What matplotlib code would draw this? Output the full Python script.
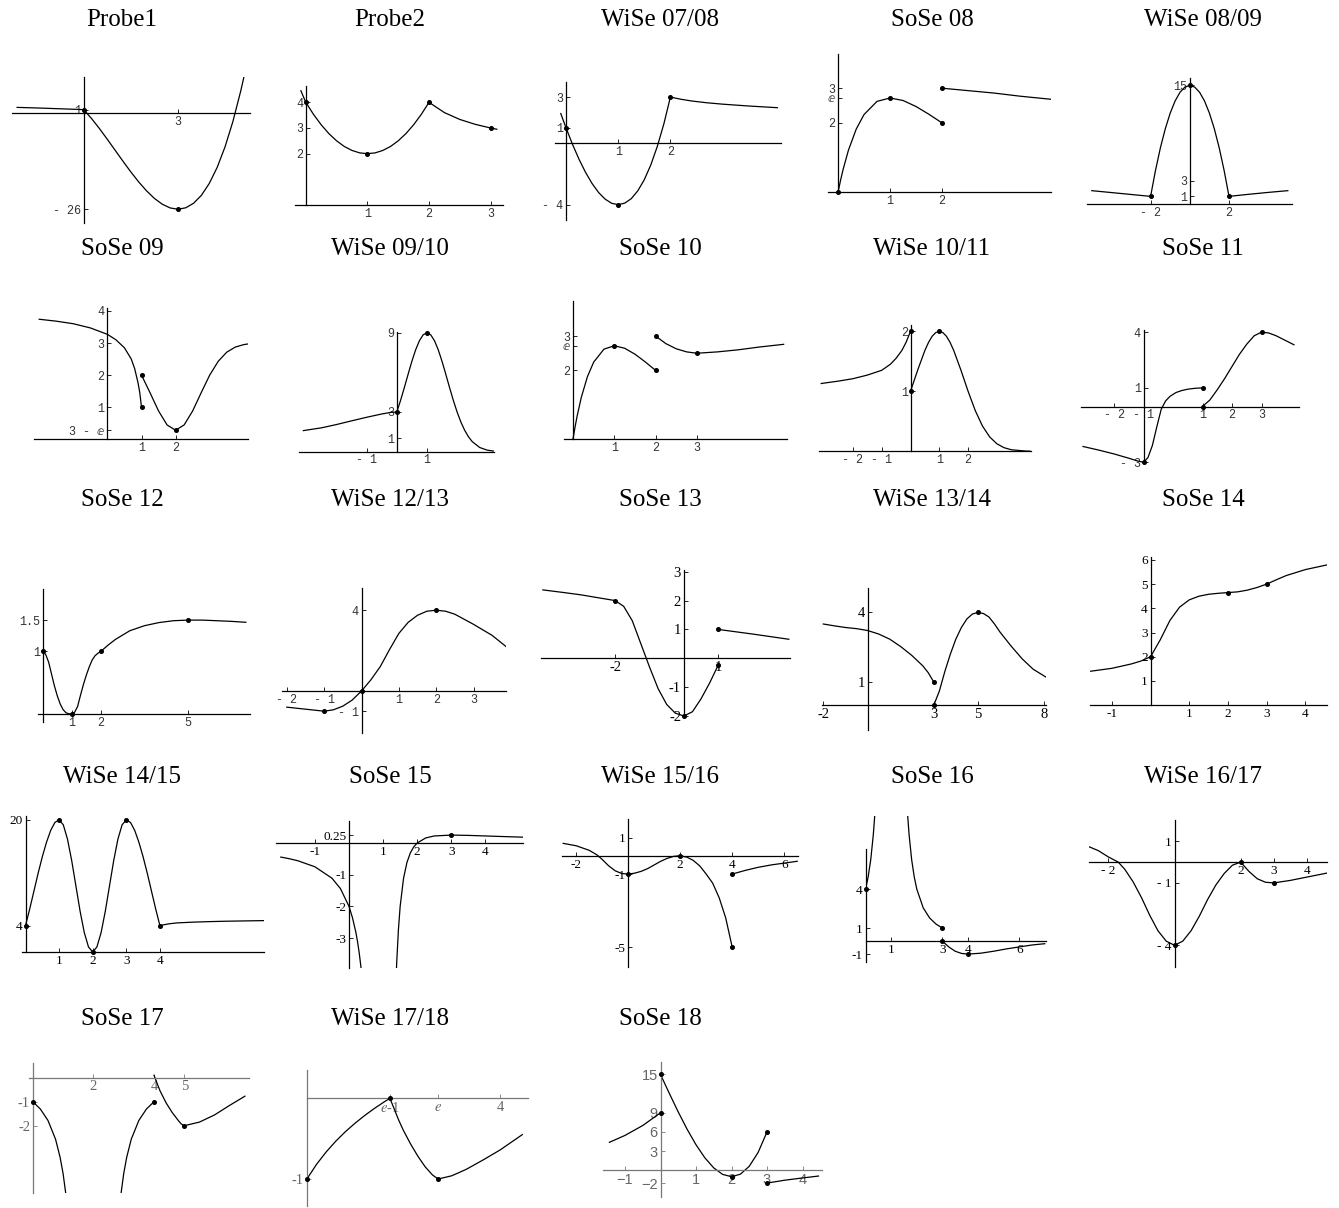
import matplotlib
matplotlib.use("Agg")
import matplotlib.pyplot as plt

plt.rcParams['mathtext.fontset'] = 'stix'

W, H = 1339, 1208
E = 2.718

# ---------------- data ----------------
titles = ["Probe1", "Probe2", "WiSe 07/08", "SoSe 08", "WiSe 08/09",
          "SoSe 09", "WiSe 09/10", "SoSe 10", "WiSe 10/11", "SoSe 11",
          "SoSe 12", "WiSe 12/13", "SoSe 13", "WiSe 13/14", "SoSe 14",
          "WiSe 14/15", "SoSe 15", "WiSe 15/16", "SoSe 16", "WiSe 16/17",
          "SoSe 17", "WiSe 17/18", "SoSe 18"]

# Probe1
probe1_lines = [
    ([-2.12, -1.5, -1, -0.5, 0], [1.6, 1.45, 1.3, 1.15, 1.0]),
    ([0, 0.25, 0.5, 0.75, 1, 1.25, 1.5, 1.75, 2, 2.25, 2.5, 2.75, 3, 3.25, 3.5,
      3.75, 4, 4.25, 4.5, 4.75, 5, 5.12],
     [1, -1.42, -4.125, -7.02, -10, -12.98, -15.875, -18.58, -21, -23.05, -24.625,
      -25.64, -26, -25.61, -24.375, -22.21, -19, -14.67, -9.125, -2.27, 6, 10.5]),
]
probe1_dots = ([0, 3], [1, -26])
probe1_xt = ([3], ["3"])
probe1_yt = ([1, -26], ["1", "- 26"])

# Probe2
probe2_lines = [
    ([-0.08, 0, 0.125, 0.25, 0.375, 0.5, 0.625, 0.75, 0.875, 1, 1.125, 1.25, 1.375,
      1.5, 1.625, 1.75, 1.875, 2],
     [4.45, 4, 3.53, 3.125, 2.78, 2.5, 2.28, 2.125, 2.03, 2, 2.03, 2.125, 2.28,
      2.5, 2.78, 3.125, 3.53, 4]),
    ([2, 2.25, 2.5, 2.75, 3, 3.1], [4, 3.6, 3.333, 3.143, 3, 2.952]),
]
probe2_dots = ([0, 1, 2, 3], [4, 2, 4, 3])
probe2_xt = ([1, 2, 3], ["1", "2", "3"])
probe2_yt = ([2, 3, 4], ["2", "3", "4"])

# WiSe 07/08
w0708_lines = [
    ([-0.1, 0, 0.125, 0.25, 0.375, 0.5, 0.625, 0.75, 0.875, 1, 1.125, 1.25, 1.375,
      1.5, 1.625, 1.75, 1.875, 2],
     [1.93, 1, -0.076, -1.05, -1.90, -2.625, -3.21, -3.64, -3.91, -4, -3.90, -3.61,
      -3.10, -2.375, -1.41, -0.20, 1.26, 3]),
    ([2, 2.2, 2.4, 2.7, 3, 3.5, 4.05], [3, 2.86, 2.75, 2.63, 2.54, 2.42, 2.31]),
]
w0708_dots = ([0, 1, 2], [1, -4, 3])
w0708_xt = ([1, 2], ["1", "2"])
w0708_yt = ([3, 1, -4], ["3", "1", "- 4"])

# SoSe 08
s08_lines = [
    ([0, 0.05, 0.1, 0.2, 0.35, 0.5, 0.75, 1, 1.25, 1.5, 1.75, 2],
     [0, 0.351, 0.669, 1.21, 1.82, 2.24, 2.62, 2.718, 2.646, 2.473, 2.247, 2]),
    ([2, 2.5, 3, 3.5, 4.1], [3, 2.93, 2.86, 2.77, 2.68]),
]
s08_dots = ([0, 1, 2, 2], [0, E, 2, 3])
s08_xt = ([1, 2], ["1", "2"])
s08_yt = ([3, E, 2], ["3", "\u2147", "2"])

# WiSe 08/09
w0809_lines = [
    ([-5, -4, -3, -2], [1.72, 1.48, 1.24, 1.0]),
    ([-2, -1.75, -1.5, -1.25, -1, -0.75, -0.5, -0.25, 0, 0.25, 0.5, 0.75, 1, 1.25,
      1.5, 1.75, 2],
     [1, 4.28, 7.125, 9.53, 11.5, 13.03, 14.125, 14.78, 15, 14.78, 14.125, 13.03,
      11.5, 9.53, 7.125, 4.28, 1]),
    ([2, 3, 4, 5], [1, 1.26, 1.5, 1.72]),
]
w0809_dots = ([-2, 0, 2], [1, 15, 1])
w0809_xt = ([-2, 2], ["- 2", "2"])
w0809_yt = ([15, 3, 1], ["15", "3", "1"])

# SoSe 09
s09_lines = [
    ([-2, -1.5, -1, -0.5, 0, 0.25, 0.5, 0.7, 0.8, 0.9, 0.95, 1],
     [3.74, 3.68, 3.6, 3.47, 3.27, 3.1, 2.85, 2.5, 2.2, 1.75, 1.45, 1.0]),
    ([1, 1.25, 1.5, 1.75, 2, 2.25, 2.5, 2.75, 3, 3.25, 3.5, 3.75, 4, 4.12],
     [2.0, 1.451, 0.883, 0.447, 0.282, 0.447, 0.883, 1.451, 2.0, 2.43, 2.714, 2.873,
      2.95, 2.97]),
]
s09_dots = ([1, 1, 2], [1, 2, 0.282])
s09_xt = ([1, 2], ["1", "2"])
s09_yt = ([4, 3, 2, 1, 0.282], ["4", "3", "2", "1", "3 - \u2147"])

# WiSe 09/10
w0910_lines = [
    ([-3.1, -2.5, -2, -1.5, -1, -0.5, -0.2, 0],
     [1.59, 1.8, 2.05, 2.33, 2.6, 2.85, 2.97, 3.0]),
    ([0, 0.125, 0.25, 0.375, 0.5, 0.625, 0.75, 0.875, 1, 1.125, 1.25, 1.375, 1.5,
      1.625, 1.75, 1.875, 2, 2.125, 2.25, 2.375, 2.5, 2.75, 3, 3.2],
     [3, 3.88, 4.85, 5.86, 6.84, 7.71, 8.40, 8.85, 9, 8.85, 8.40, 7.71, 6.84, 5.86,
      4.85, 3.88, 3, 2.24, 1.62, 1.13, 0.76, 0.31, 0.11, 0.044]),
]
w0910_dots = ([0, 1], [3, 9])
w0910_xt = ([-1, 1], ["- 1", "1"])
w0910_yt = ([9, 3, 1], ["9", "3", "1"])

# SoSe 10
s10_lines = [
    ([0, 0.05, 0.1, 0.2, 0.35, 0.5, 0.75, 1, 1.25, 1.5, 1.75, 2],
     [0, 0.351, 0.669, 1.21, 1.82, 2.24, 2.62, 2.718, 2.646, 2.473, 2.247, 2]),
    ([2, 2.25, 2.5, 2.75, 3, 3.5, 4, 4.5, 5.1],
     [3, 2.78, 2.63, 2.54, 2.5, 2.54, 2.6, 2.68, 2.76]),
]
s10_dots = ([1, 2, 2, 3], [E, 2, 3, 2.5])
s10_xt = ([1, 2, 3], ["1", "2", "3"])
s10_yt = ([3, E, 2], ["3", "\u2147", "2"])

# WiSe 10/11
w1011_lines = [
    ([-3.1, -2.5, -2, -1.5, -1, -0.7, -0.5, -0.3, -0.15, 0],
     [1.13, 1.17, 1.21, 1.27, 1.35, 1.45, 1.55, 1.68, 1.82, 2.0]),
    ([0, 0.25, 0.5, 0.625, 0.75, 0.875, 1, 1.125, 1.25, 1.375, 1.5, 1.75, 2, 2.25,
      2.5, 2.75, 3, 3.25, 3.5, 4, 4.15],
     [1, 1.354, 1.682, 1.814, 1.916, 1.978, 2, 1.978, 1.916, 1.814, 1.682, 1.354, 1,
      0.677, 0.42, 0.239, 0.125, 0.06, 0.026, 0.004, 0.002]),
]
w1011_dots = ([0, 0, 1], [1, 2, 2])
w1011_xt = ([-2, -1, 1, 2], ["- 2", "- 1", "1", "2"])
w1011_yt = ([2, 1], ["2", "1"])

# SoSe 11
s11_lines = [
    ([-3.05, -2.5, -2, -1.5, -1.2, -1, -0.85, -0.7, -0.55, -0.4, -0.25, -0.1, 0.1,
      0.3, 0.5, 0.75, 1],
     [-2.15, -2.35, -2.55, -2.78, -2.93, -3, -2.75, -2.1, -1.1, -0.15, 0.3, 0.55,
      0.75, 0.86, 0.93, 0.98, 1.0]),
    ([1, 1.25, 1.5, 1.75, 2, 2.25, 2.5, 2.75, 3, 3.25, 3.5, 3.75, 4, 4.1],
     [0, 0.35, 0.9, 1.5, 2.15, 2.8, 3.35, 3.8, 4, 3.95, 3.8, 3.6, 3.4, 3.32]),
]
s11_dots = ([-1, 1, 1, 3], [-3, 1, 0, 4])
s11_xt = ([-2, -1, 1, 2, 3], ["- 2", "- 1", "1", "2", "3"])
s11_yt = ([4, 1, -3], ["4", "1", "- 3"])

# SoSe 12
s12_lines = [
    ([0, 0.1, 0.2, 0.3, 0.4, 0.5, 0.6, 0.7, 0.8, 0.9, 1, 1.1, 1.2, 1.3, 1.4, 1.5,
      1.6, 1.7, 1.8, 1.9, 2, 2.25, 2.5, 3, 3.5, 4, 4.5, 5, 5.5, 6, 6.5, 7],
     [1, 0.95, 0.83, 0.64, 0.45, 0.29, 0.16, 0.07, 0.02, 0.003, 0, 0.03, 0.12, 0.3,
      0.47, 0.62, 0.75, 0.86, 0.93, 0.97, 1, 1.1, 1.19, 1.33, 1.41, 1.46, 1.49, 1.5,
      1.5, 1.49, 1.48, 1.465]),
]
s12_dots = ([0, 1, 2, 5], [1, 0, 1, 1.5])
s12_xt = ([1, 2, 5], ["1", "2", "5"])
s12_yt = ([1.5, 1], ["1.5", "1"])

# WiSe 12/13
w1213_lines = [
    ([-2, -1.5, -1, -0.75, -0.5, -0.25, 0, 0.25, 0.5, 0.75, 1, 1.25, 1.5, 1.75, 2,
      2.25, 2.5, 3, 3.5, 3.87],
     [-0.8, -0.9, -1, -0.93, -0.75, -0.45, 0, 0.55, 1.2, 2.05, 2.85, 3.4, 3.75, 3.95,
      4, 3.95, 3.8, 3.3, 2.75, 2.2]),
]
w1213_dots = ([-1, 0, 2], [-1, 0, 4])
w1213_xt = ([-2, -1, 1, 2, 3], ["- 2", "- 1", "1", "2", "3"])
w1213_yt = ([4, -1], ["4", "- 1"])

# SoSe 13
s13_lines = [
    ([-4.1, -3.5, -3, -2.5, -2, -1.75, -1.5, -1.25, -1, -0.75, -0.5, -0.25, 0, 0.25,
      0.5, 0.75, 1],
     [2.37, 2.28, 2.2, 2.1, 2, 1.8, 1.3, 0.5, -0.3, -1.05, -1.6, -1.9, -2, -1.85,
      -1.4, -0.85, -0.23]),
    ([1, 2, 3.05], [1, 0.84, 0.66]),
]
s13_dots = ([-2, 0, 1, 1], [2, -2, -0.23, 1])
s13_xt = ([-2, 1], ["-2", "1"])
s13_yt = ([3, 2, 1, -1, -2], ["3", "2", "1", "-1", "-2"])

# WiSe 13/14
w1314_lines = [
    ([-2, -1.5, -1, -0.5, 0, 0.5, 1, 1.5, 2, 2.5, 2.75, 3],
     [3.5, 3.42, 3.35, 3.3, 3.22, 3.07, 2.85, 2.53, 2.15, 1.7, 1.4, 1.0]),
    ([3, 3.25, 3.5, 3.75, 4, 4.25, 4.5, 4.75, 5, 5.25, 5.5, 5.75, 6, 6.5, 7, 7.5, 8.1],
     [0, 0.6, 1.45, 2.2, 2.85, 3.35, 3.72, 3.93, 4, 3.95, 3.8, 3.5, 3.15, 2.55, 2.0,
      1.55, 1.2]),
]
w1314_dots = ([3, 3, 5], [1, 0, 4])
w1314_xt = ([-2, 3, 5, 8], ["-2", "3", "5", "8"])
w1314_yt = ([4, 1], ["4", "1"])

# SoSe 14
s14_lines = [
    ([-1.55, -1, -0.5, -0.25, 0, 0.25, 0.5, 0.75, 1, 1.25, 1.5, 1.75, 2, 2.25, 2.5,
      2.75, 3, 3.25, 3.5, 4, 4.55],
     [1.4, 1.52, 1.7, 1.82, 2, 2.7, 3.5, 4.05, 4.35, 4.5, 4.58, 4.62, 4.65, 4.68,
      4.75, 4.86, 5, 5.18, 5.35, 5.6, 5.79]),
]
s14_dots = ([0, 2, 3], [2, 4.65, 5])
s14_xt = ([-1, 1, 2, 3, 4], ["-1", "1", "2", "3", "4"])
s14_yt = ([1, 2, 3, 4, 5, 6], ["1", "2", "3", "4", "5", "6"])

# WiSe 14/15
w1415_lines = [
    ([0, 0.125, 0.25, 0.375, 0.5, 0.625, 0.75, 0.875, 1, 1.125, 1.25, 1.375, 1.5,
      1.625, 1.75, 1.875, 2, 2.125, 2.25, 2.375, 2.5, 2.625, 2.75, 2.875, 3, 3.125,
      3.25, 3.375, 3.5, 3.625, 3.75, 3.875, 4, 4.25, 4.5, 5, 5.5, 6, 6.5, 7.1],
     [4, 6.5, 9.2, 11.9, 14.4, 16.6, 18.4, 19.6, 20, 19.24, 17.07, 13.83, 10, 6.17,
      2.93, 0.76, 0, 0.76, 2.93, 6.17, 10, 13.83, 17.07, 19.24, 20, 19.6, 18.4, 16.6,
      14.4, 11.9, 9.2, 6.5, 4, 4.25, 4.4, 4.52, 4.6, 4.66, 4.7, 4.75]),
]
w1415_dots = ([0, 1, 2, 3, 4], [4, 20, 0, 20, 4])
w1415_xt = ([1, 2, 3, 4], ["1", "2", "3", "4"])
w1415_yt = ([20, 4], ["20", "4"])

# SoSe 15
s15_lines = [
    ([-2.0, -1.75, -1.5, -1, -0.5, -0.25, 0, 0.1, 0.2, 0.25, 0.3, 0.35, 0.37],
     [-0.444, -0.496, -0.56, -0.75, -1.11, -1.44, -2, -2.35, -2.81, -3.11, -3.47,
      -3.91, -4.11]),
    ([1.38, 1.4, 1.45, 1.5, 1.6, 1.7, 1.8, 1.9, 2, 2.25, 2.5, 3, 3.5, 4, 4.5, 5.1],
     [-4.29, -3.75, -2.72, -2, -1.11, -0.61, -0.31, -0.12, 0, 0.16, 0.222, 0.25, 0.24,
      0.222, 0.204, 0.184]),
]
s15_dots = ([3], [0.25])
s15_xt = ([-1, 1, 2, 3, 4], ["-1", "1", "2", "3", "4"])
s15_yt = ([0.25, -1, -2, -3], ["0.25", "-1", "-2", "-3"])

# WiSe 15/16
w1516_lines = [
    ([-2.5, -2, -1.5, -1.2, -1, -0.75, -0.5, -0.25, 0, 0.25, 0.5, 0.75, 1, 1.25, 1.5,
      1.75, 2, 2.25, 2.5, 2.75, 3, 3.25, 3.5, 3.75, 4],
     [0.68, 0.55, 0.3, 0.05, -0.2, -0.55, -0.82, -0.97, -1, -0.95, -0.85, -0.7, -0.5,
      -0.3, -0.14, -0.03, 0, -0.07, -0.25, -0.55, -1.0, -1.5, -2.3, -3.4, -5]),
    ([4, 4.5, 5, 5.5, 6, 6.5], [-1, -0.8, -0.63, -0.5, -0.4, -0.3]),
]
w1516_dots = ([0, 2, 4, 4], [-1, 0, -5, -1])
w1516_xt = ([-2, 2, 4, 6], ["-2", "2", "4", "6"])
w1516_yt = ([1, -1, -5], ["1", "-1", "-5"])

# SoSe 16
s16_lines = [
    ([0, 0.1, 0.2, 0.3, 0.35, 0.37], [4, 4.94, 6.25, 8.16, 9.47, 10.08]),
    ([1.63, 1.65, 1.7, 1.8, 1.9, 2, 2.25, 2.5, 2.75, 3],
     [10.08, 9.47, 8.16, 6.25, 4.94, 4, 2.56, 1.78, 1.31, 1]),
    ([3, 3.25, 3.5, 3.75, 4, 4.5, 5, 5.5, 6, 6.5, 7],
     [0, -0.45, -0.78, -0.95, -1, -0.93, -0.78, -0.6, -0.45, -0.3, -0.2]),
]
s16_dots = ([0, 3, 3, 4], [4, 1, 0, -1])
s16_xt = ([1, 3, 4, 6], ["1", "3", "4", "6"])
s16_yt = ([4, 1, -1], ["4", "1", "-1"])

# WiSe 16/17
w1617_lines = [
    ([-2.6, -2.3, -2, -1.7, -1.5, -1.25, -1, -0.75, -0.5, -0.25, 0, 0.25, 0.5, 0.75,
      1, 1.25, 1.5, 1.75, 2],
     [0.75, 0.55, 0.25, 0, -0.35, -0.95, -1.7, -2.55, -3.3, -3.8, -4, -3.8, -3.3,
      -2.6, -1.8, -1.1, -0.55, -0.15, 0]),
    ([2, 2.25, 2.5, 2.75, 3, 3.5, 4, 4.6], [0, -0.45, -0.8, -0.97, -1, -0.88, -0.72, -0.53]),
]
w1617_dots = ([0, 2, 3], [-4, 0, -1])
w1617_xt = ([-2, 2, 3, 4], ["- 2", "2", "3", "4"])
w1617_yt = ([1, -1, -4], ["1", "- 1", "- 4"])

# SoSe 17
s17_lines = [
    ([0, 0.25, 0.5, 0.75, 0.9, 1.0, 1.1], [-1, -1.306, -1.78, -2.56, -3.31, -4, -4.94]),
    ([2.9, 3, 3.1, 3.25, 3.5, 3.75, 4], [-4.94, -4, -3.31, -2.56, -1.78, -1.306, -1]),
    ([4, 4.2, 4.4, 4.6, 4.8, 4.9, 5, 5.5, 6, 6.5, 7],
     [0.1, -0.55, -1.05, -1.45, -1.78, -1.93, -2, -1.85, -1.55, -1.15, -0.77]),
]
s17_dots = ([0, 4, 5], [-1, -1, -2])
s17_xt = ([2, 4, 5], ["2", "4", "5"])
s17_yt = ([-1, -2], ["-1", "-2"])

# WiSe 17/18
w1718_lines = [
    ([0, 0.2, 0.4, 0.6, 0.8, 1.0, 1.2, 1.4, 1.6, 1.718],
     [-1, -0.818, -0.664, -0.53, -0.412, -0.307, -0.2115, -0.1245, -0.0445, 0]),
    ([1.718, 1.8, 1.9, 2.0, 2.15, 2.3, 2.45, 2.6, 2.718, 3, 3.3, 3.66, 4, 4.46],
     [0, -0.12, -0.27, -0.4, -0.57, -0.72, -0.85, -0.95, -1, -0.96, -0.88, -0.76,
      -0.64, -0.45]),
]
w1718_dots = ([0, 1.718, 2.718], [-1, 0, -1])
w1718_xt = ([1.718, 2.718, 4], ["$e$-1", "$e$", "4"])
w1718_yt = ([-1], ["-1"])

# SoSe 18
s18_lines = [
    ([-1.44, -1, -0.5, 0], [4.38, 5.46, 7.01, 9]),
    ([0, 0.25, 0.5, 0.75, 1, 1.25, 1.5, 1.75, 2, 2.25, 2.5, 2.75, 3],
     [15, 12.02, 9.125, 6.42, 4, 1.95, 0.375, -0.64, -1, -0.61, 0.625, 2.80, 6]),
    ([3, 3.5, 4, 4.45], [-2, -1.55, -1.2, -0.9]),
]
s18_dots = ([0, 0, 2, 3, 3], [9, 15, -1, 6, -2])
s18_xt = ([-1, 1, 2, 3, 4], ["\u22121", "1", "2", "3", "4"])
s18_yt = ([15, 9, 6, 3, -2], ["15", "9", "6", "3", "\u22122"])

panel_data = [
    (probe1_lines, probe1_dots, probe1_xt, probe1_yt),
    (probe2_lines, probe2_dots, probe2_xt, probe2_yt),
    (w0708_lines, w0708_dots, w0708_xt, w0708_yt),
    (s08_lines, s08_dots, s08_xt, s08_yt),
    (w0809_lines, w0809_dots, w0809_xt, w0809_yt),
    (s09_lines, s09_dots, s09_xt, s09_yt),
    (w0910_lines, w0910_dots, w0910_xt, w0910_yt),
    (s10_lines, s10_dots, s10_xt, s10_yt),
    (w1011_lines, w1011_dots, w1011_xt, w1011_yt),
    (s11_lines, s11_dots, s11_xt, s11_yt),
    (s12_lines, s12_dots, s12_xt, s12_yt),
    (w1213_lines, w1213_dots, w1213_xt, w1213_yt),
    (s13_lines, s13_dots, s13_xt, s13_yt),
    (w1314_lines, w1314_dots, w1314_xt, w1314_yt),
    (s14_lines, s14_dots, s14_xt, s14_yt),
    (w1415_lines, w1415_dots, w1415_xt, w1415_yt),
    (s15_lines, s15_dots, s15_xt, s15_yt),
    (w1516_lines, w1516_dots, w1516_xt, w1516_yt),
    (s16_lines, s16_dots, s16_xt, s16_yt),
    (w1617_lines, w1617_dots, w1617_xt, w1617_yt),
    (s17_lines, s17_dots, s17_xt, s17_yt),
    (w1718_lines, w1718_dots, w1718_xt, w1718_yt),
    (s18_lines, s18_dots, s18_xt, s18_yt),
]

# ---------------- layout (pixels) ----------------
# origin px (x0, y0), px per unit (sx, sy), xlim, ylim, x of vertical axis, label style
layout = [
    (83.7, 113.3, 31.4, 3.69, (-2.28, 5.3), (-29.6, 9.76), 0, "mono"),
    (305.8, 205, 61.6, 25.67, (-0.17, 3.2), (0, 4.64), 0, "mono"),
    (566, 143.2, 52.2, 15.37, (-0.21, 4.11), (-5.0, 4.0), 0, "mono"),
    (838, 192.3, 52, 34.7, (-0.2, 4.1), (0, 3.99), 0, "mono"),
    (1189.8, 204.3, 19.6, 7.93, (-5.26, 5.23), (0, 15.9), 0, "mono"),
    (107.4, 439.3, 34.1, 32.1, (-2.14, 4.12), (0, 4.08), 0, "mono"),
    (396.8, 451.6, 30.15, 13.2, (-3.24, 3.23), (0, 9.09), 0, "mono"),
    (573, 439, 41.3, 34.3, (-0.23, 5.18), (0, 4.01), 0, "mono"),
    (910.5, 451.3, 28.8, 60, (-3.18, 4.17), (0, 2.1), 0, "mono"),
    (1173, 406.5, 29.5, 18.6, (-3.12, 4.26), (-3.04, 4.12), -1, "mono"),
    (42.8, 714, 29, 62.6, (-0.15, 7.16), (-0.12, 1.99), 0, "mono"),
    (361.5, 691, 37.35, 20.2, (-2.14, 3.87), (-2.09, 5.08), 0, "mono"),
    (683.9, 658.3, 34.4, 28.86, (-4.14, 3.07), (-2.02, 3.06), 0, "serif_big"),
    (867.5, 705.2, 22.09, 23.2, (-2.08, 8.08), (-1.08, 5.06), 0, "serif_big"),
    (1150.6, 705.1, 38.7, 24.2, (-1.57, 4.56), (0, 6.13), 0, "serif"),
    (25.5, 952, 33.6, 6.61, (-0.09, 7.11), (0, 20.5), 0, "serif"),
    (349, 843, 34.1, 31.7, (-2.13, 5.11), (-3.94, 0.68), 0, "serif"),
    (628.2, 855.8, 26, 18.27, (-2.54, 6.55), (-6.08, 2.0), 0, "serif"),
    (865.6, 941.1, 25.6, 13.0, (0, 7.05), (-1.64, 9.6), 0, "serif"),
    (1174.5, 862.1, 33.1, 20.8, (-2.59, 4.61), (-5.02, 2.03), 0, "serif"),
    (32.8, 1077.7, 30.3, 24, (-0.11, 7.13), (-4.79, 0.63), 0, "serif_gray"),
    (306.9, 1098.3, 48.3, 80.7, (0, 4.57), (-1.34, 0.35), 0, "serif_gray"),
    (660.5, 1170.3, 35.5, 6.39, (-1.63, 4.55), (-4.2, 16.9), 0, "narrow"),
]
spine_ybounds = {18: (-1.64, 7.08)}

col_cx = [122, 390, 660, 932, 1203]
row_cy = [20, 249, 500, 777, 1019]

styles = {
    "mono": (["Liberation Mono", "DejaVu Sans"], 8.5, "#333333", "black"),
    "serif": (["Liberation Serif", "DejaVu Serif"], 9.5, "black", "black"),
    "serif_big": (["Liberation Serif", "DejaVu Serif"], 10.5, "black", "black"),
    "serif_gray": (["Liberation Serif", "DejaVu Serif"], 10.5, "#666666", "#777777"),
    "narrow": (["Liberation Sans Narrow", "Liberation Sans", "DejaVu Sans"], 10.5,
               "#666666", "#777777"),
}

fig = plt.figure(figsize=(W / 100, H / 100), dpi=100)

for i, (lines, dots, xt, yt) in enumerate(panel_data):
    x0, y0, sx, sy, xlim, ylim, yaxis_at, style = layout[i]
    fam, fs, lcol, scol = styles[style]
    left = x0 + xlim[0] * sx
    right = x0 + xlim[1] * sx
    top = y0 - ylim[1] * sy
    bottom = y0 - ylim[0] * sy
    ax = fig.add_axes([left / W, 1 - bottom / H, (right - left) / W, (bottom - top) / H])
    ax.set_xlim(xlim)
    ax.set_ylim(ylim)
    ax.patch.set_visible(False)
    ax.spines["top"].set_visible(False)
    ax.spines["right"].set_visible(False)
    ax.spines["left"].set_position(("data", yaxis_at))
    ax.spines["bottom"].set_position(("data", 0))
    for s in ("left", "bottom"):
        ax.spines[s].set_linewidth(0.9)
        ax.spines[s].set_color(scol)
    if i in spine_ybounds:
        ax.spines["left"].set_bounds(*spine_ybounds[i])

    for xs, ys in lines:
        ax.plot(xs, ys, color="black", lw=0.9, solid_joinstyle="round")
    ax.plot(dots[0], dots[1], "o", color="black", ms=2.6, clip_on=False, zorder=3)

    ax.set_xticks(xt[0], xt[1], fontsize=fs, family=fam, color=lcol)
    ax.set_yticks(yt[0], yt[1], fontsize=fs, family=fam, color=lcol)
    ax.tick_params(direction="in", length=3, width=0.6, pad=2, colors=scol)
    for lab in ax.get_xticklabels() + ax.get_yticklabels():
        lab.set_color(lcol)

    r, c = divmod(i, 5)
    fig.text(col_cx[c] / W, 1 - row_cy[r] / H, titles[i], ha="center", va="center",
             fontsize=18, family=["Liberation Serif", "DejaVu Serif"])

fig.savefig("out.png", dpi=100)
